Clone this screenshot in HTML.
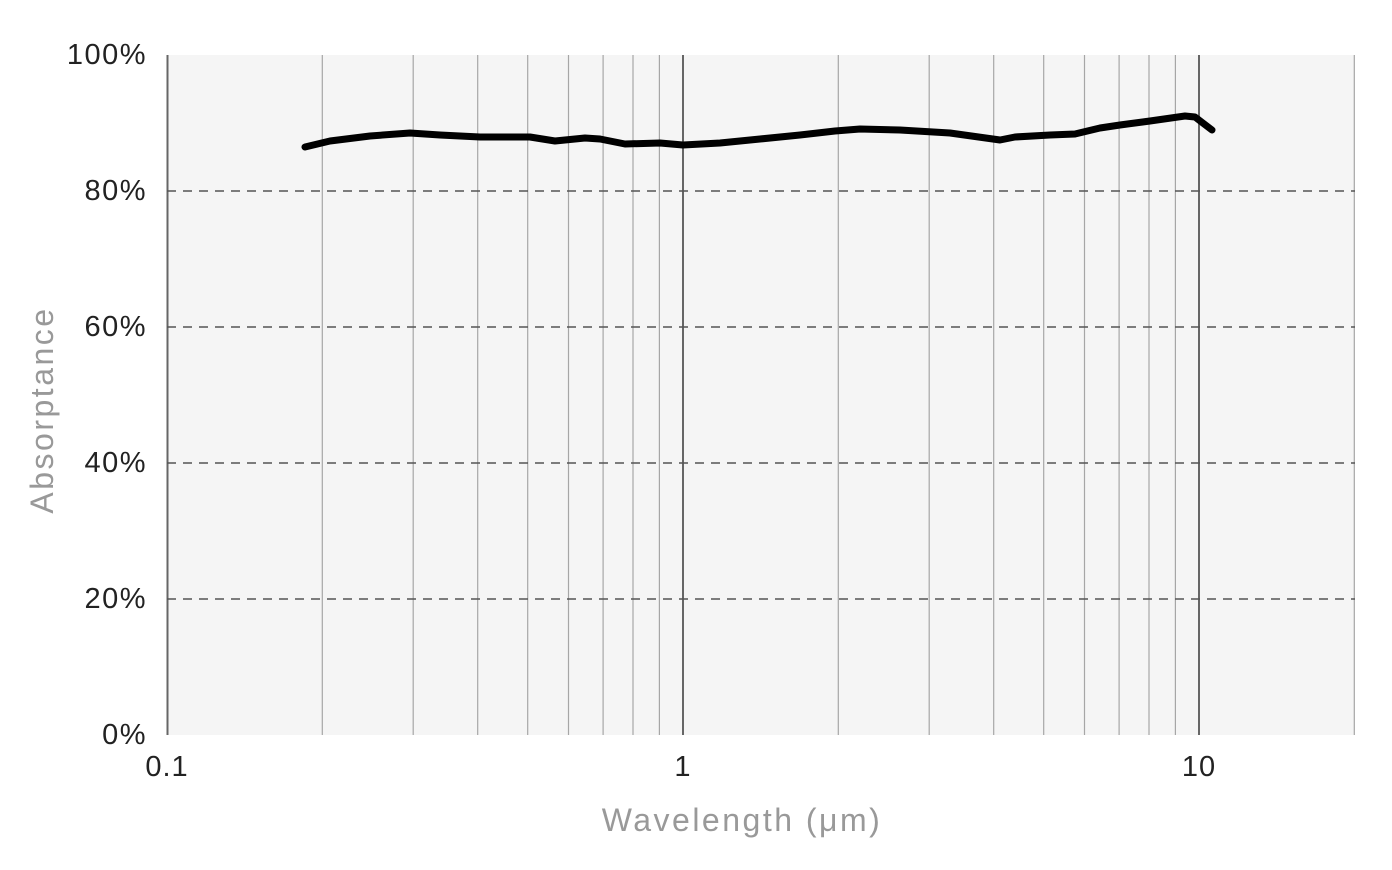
<!DOCTYPE html>
<html><head><meta charset="utf-8"><style>
body{margin:0;background:#fff}
text{font-family:"Liberation Sans",sans-serif}
</style></head><body>
<svg width="1392" height="865" viewBox="0 0 1392 865" xmlns="http://www.w3.org/2000/svg">
<rect x="167" y="55" width="1188" height="680" fill="#f5f5f5"/>
<g stroke="#a6a6a6" stroke-width="1.2">
<line x1="322.3" y1="55" x2="322.3" y2="735"/><line x1="413.2" y1="55" x2="413.2" y2="735"/><line x1="477.7" y1="55" x2="477.7" y2="735"/><line x1="527.7" y1="55" x2="527.7" y2="735"/><line x1="568.5" y1="55" x2="568.5" y2="735"/><line x1="603.1" y1="55" x2="603.1" y2="735"/><line x1="633" y1="55" x2="633" y2="735"/><line x1="659.4" y1="55" x2="659.4" y2="735"/>
<line x1="838.3" y1="55" x2="838.3" y2="735"/><line x1="929.2" y1="55" x2="929.2" y2="735"/><line x1="993.7" y1="55" x2="993.7" y2="735"/><line x1="1043.7" y1="55" x2="1043.7" y2="735"/><line x1="1084.5" y1="55" x2="1084.5" y2="735"/><line x1="1119.1" y1="55" x2="1119.1" y2="735"/><line x1="1149" y1="55" x2="1149" y2="735"/><line x1="1175.4" y1="55" x2="1175.4" y2="735"/><line x1="1354.3" y1="55" x2="1354.3" y2="735"/>
</g>
<g stroke="#666" stroke-width="2">
<line x1="167.5" y1="55" x2="167.5" y2="735"/><line x1="683" y1="55" x2="683" y2="735"/><line x1="1199" y1="55" x2="1199" y2="735"/>
</g>
<g stroke="#555" stroke-width="1.5" stroke-dasharray="9,7">
<line x1="167" y1="191" x2="1355" y2="191"/><line x1="167" y1="327" x2="1355" y2="327"/><line x1="167" y1="463" x2="1355" y2="463"/><line x1="167" y1="599" x2="1355" y2="599"/>
</g>
<polyline fill="none" stroke="#000" stroke-width="7" stroke-linecap="round" stroke-linejoin="round"
points="305,147 330,141 370,136 410,133 440,135 480,137 530,137 555,141 585,138 600,139 625,144 660,143 683,145 720,143 760,139 800,135 835,131 860,129 900,130 950,133 1000,140 1015,137 1050,135 1075,134 1100,128 1120,125 1150,121 1185,116 1195,117 1212,130"/>
<g font-size="29" fill="#222" text-anchor="end" letter-spacing="1.5">
<text x="147" y="64">100%</text><text x="147" y="200">80%</text><text x="147" y="336">60%</text><text x="147" y="472">40%</text><text x="147" y="608">20%</text><text x="147" y="744">0%</text>
</g>
<g font-size="29" fill="#222" text-anchor="middle" letter-spacing="1">
<text x="167" y="776">0.1</text><text x="683" y="776">1</text><text x="1199" y="776">10</text>
</g>
<text x="742" y="831" font-size="32" fill="#999" text-anchor="middle" letter-spacing="2.5">Wavelength (μm)</text>
<text transform="translate(53,410) rotate(-90)" font-size="32" fill="#999" text-anchor="middle" letter-spacing="2.5">Absorptance</text>
</svg>
</body></html>
